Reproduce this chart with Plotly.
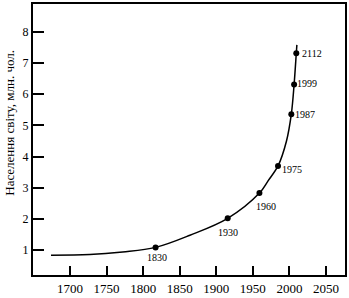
import plotly.graph_objects as go

# Curve (smooth line) points
curve_years = [1674, 1727, 1772, 1817, 1864, 1915.6, 1959, 1971, 1984.4, 1996, 2002.6, 2006.4, 2009.4, 2010.2]
curve_pop = [0.84, 0.86, 0.945, 1.09, 1.48, 2.02, 2.83, 3.23, 3.70, 4.5, 5.36, 6.31, 7.31, 7.58]

# Marked points and their labels
point_years = [1817, 1915.6, 1959, 1984.4, 2002.6, 2006.4, 2009.4]
point_pop = [1.09, 2.02, 2.83, 3.70, 5.36, 6.31, 7.31]
point_labels = ["1830", "1930", "1960", "1975", "1987", "1999", "2112"]

x_ticks = [1700, 1750, 1800, 1850, 1900, 1950, 2000, 2050]
y_ticks = [1, 2, 3, 4, 5, 6, 7, 8]
y_title = "Населення світу, млн. чол."

# label offsets (style)
label_dx = [1, 0, 7, 14, 14, 13, 16]
label_dy = [-10, -14, -13, -4, 0, 1, 0]

font_family = "Liberation Serif, Times New Roman, serif"

fig = go.Figure()
fig.add_trace(go.Scatter(
    x=curve_years, y=curve_pop, mode="lines",
    line=dict(color="black", width=1.5, shape="spline", smoothing=1.0),
    hoverinfo="skip", showlegend=False,
))
fig.add_trace(go.Scatter(
    x=point_years, y=point_pop, mode="markers",
    marker=dict(color="black", size=6),
    showlegend=False,
))

for xv, yv, lab, dx, dy in zip(point_years, point_pop, point_labels, label_dx, label_dy):
    fig.add_annotation(
        x=xv, y=yv, text=lab, showarrow=False,
        xshift=dx, yshift=dy,
        font=dict(family=font_family, size=10, color="black"),
    )

fig.add_annotation(
    xref="paper", yref="paper", x=0, y=0.56, xshift=-33,
    text=y_title, textangle=-90, showarrow=False,
    font=dict(family=font_family, size=13, color="black"),
)

fig.update_xaxes(
    range=[1649.4, 2076], tickvals=x_ticks,
    ticks="inside", ticklen=9, tickwidth=1.5, tickcolor="black",
    showline=True, linecolor="black", linewidth=2, mirror=True,
    showgrid=False, zeroline=False,
    tickfont=dict(family=font_family, size=13, color="black"),
)
fig.update_yaxes(
    range=[0.205, 8.89], tickvals=y_ticks,
    ticks="inside", ticklen=11, tickwidth=1.5, tickcolor="black",
    showline=True, linecolor="black", linewidth=2, mirror=True,
    showgrid=False, zeroline=False,
    tickfont=dict(family=font_family, size=12, color="black"),
)

fig.update_layout(
    width=349, height=298,
    margin=dict(l=33, r=4, t=2, b=23),
    paper_bgcolor="white", plot_bgcolor="white",
)

fig.write_html("out.html")
